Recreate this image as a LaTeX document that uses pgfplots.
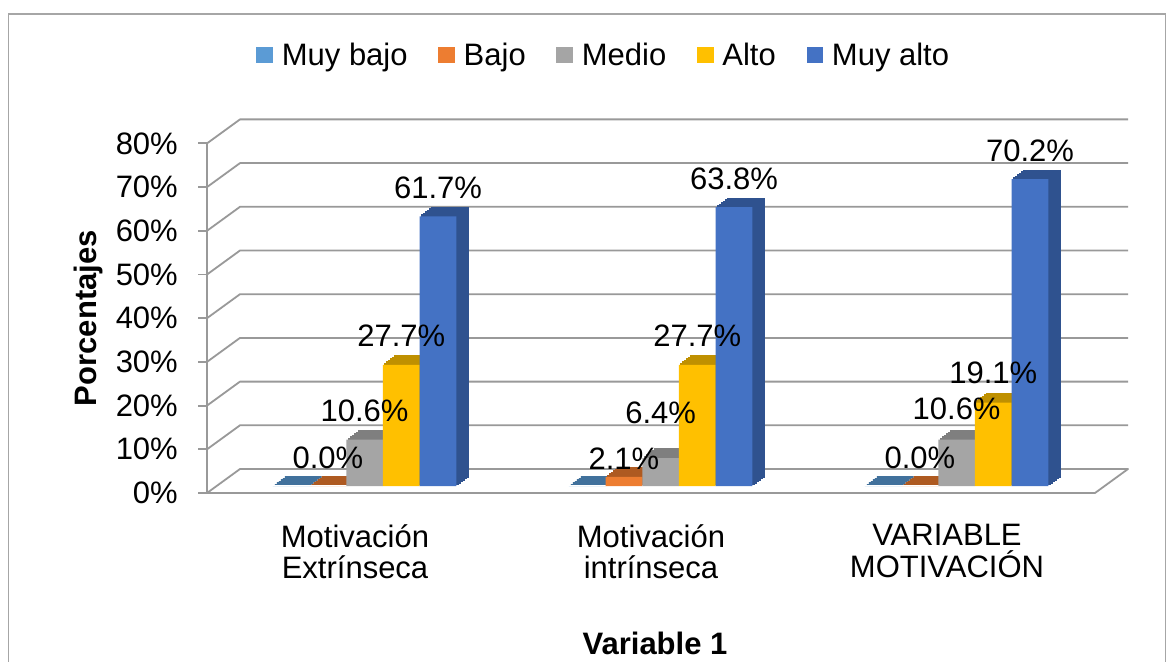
\documentclass[border=0pt]{standalone}
\usepackage{fontspec}
\setmainfont{Liberation Sans}
\usepackage{pgfplots}
\usepackage{pgfplotstable}
\pgfplotsset{compat=1.18}
\definecolor{cMB}{HTML}{5B9BD5}\definecolor{dMB}{HTML}{41719C}
\definecolor{cB}{HTML}{ED7D31}\definecolor{dB}{HTML}{AE5A21}
\definecolor{cM}{HTML}{A5A5A5}\definecolor{dM}{HTML}{7F7F7F}
\definecolor{cA}{HTML}{FFC000}\definecolor{dA}{HTML}{BF9000}
\definecolor{cMA}{HTML}{4472C4}\definecolor{dMA}{HTML}{2F528F}
\definecolor{gridc}{HTML}{999999}
\definecolor{framec}{HTML}{A6A6A6}
\newcommand{\fs}{\fontsize{31}{31.7}\selectfont}
% values, and label offsets (pt above the bar top)
\pgfplotstableread{
x muybajo bajo medio alto muyalto offbajo offmedio offalto offmuyalto
0 0.0 0.0 10.6 27.7 61.7 18 18 18 18
1 0.0 2.1 6.4 27.7 63.8 7 35 18 18
2 0.0 0.0 10.6 19.1 70.2 18 20 19 18
}\datatable
\newcommand{\threedbar}[4]{%
  \pgfplotsinvokeforeach{6,5,4,3,2,1}{%
    \addplot[forget plot, fill=#4, draw=#4, line width=1.2pt, bar shift=#2,
      xshift=9.6pt+2pt*##1, yshift=7pt+1.5pt*##1] table[x=x,y=#1]{\datatable};
  }
  \addplot[forget plot, fill=#3, draw=none, bar shift=#2, xshift=9.6pt, yshift=7pt]
    table[x=x,y=#1]{\datatable};
}
\newcommand{\barlabels}[2]{%
  \addplot[forget plot, draw=none, fill=none, bar shift=#2, xshift=9.6pt, yshift=7pt,
    visualization depends on={\thisrow{off#1}\as\laboff},
    nodes near coords={\pgfmathprintnumber[fixed,fixed zerofill,precision=1]{\pgfplotspointmeta}\%},
    every node near coord/.style={anchor=base, xshift=#2, yshift=\laboff*1pt, inner sep=0pt, font=\fs, text=black}]
    table[x=x,y=#1]{\datatable};
}
\begin{document}
\begin{tikzpicture}
\useasboundingbox (0,0) rectangle (1174pt,661pt);
\fill[white] (0,0) rectangle (1174pt,661pt);
\draw[framec, line width=1.5pt] (8.5pt,-20pt) rectangle (1165.5pt,647pt);
\begin{axis}[
  at={(207pt,168pt)}, anchor=south west,
  scale only axis, width=888pt, height=349.6pt,
  xmin=-0.5, xmax=2.5, ymin=0, ymax=80,
  ybar, bar width=36.7pt,
  clip=false,
  /pgf/number format/assume math mode=true,
  separate axis lines,
  axis x line*=bottom, axis y line*=left,
  x axis line style={draw=none},
  y axis line style={draw=gridc, line width=1.8pt},
  xtick={0,1,2},
  xticklabels={{Motivación\\Extrínseca},{Motivación\\intrínseca},{VARIABLE\\MOTIVACIÓN}},
  xtick style={draw=none},
  ytick={0,10,...,80},
  yticklabels={0\%,10\%,20\%,30\%,40\%,50\%,60\%,70\%,80\%},
  ytick style={draw=gridc, line width=1.8pt},
  tick align=outside, major tick length=9pt,
  tick label style={font=\fs},
  yticklabel style={anchor=east, inner sep=0pt, xshift=-20pt},
  xticklabel style={align=center, anchor=north, inner sep=0pt, yshift=-22pt},
  xlabel={\textbf{Variable 1}},
  every axis x label/.style={at={(axis description cs:0.5045,-0.463)}, anchor=base, font=\fs},
  ylabel={\textbf{Porcentajes}},
  every axis y label/.style={at={(axis description cs:-0.1329,0.5)}, anchor=center, rotate=90, font=\fs},
  legend columns=-1,
  legend image code/.code={\fill[#1] (0pt,-8.3pt) rectangle (16.7pt,8.3pt);},
  legend style={at={(axis description cs:0.4457,1.2529)}, anchor=center, draw=none, fill=none,
    font=\fs, inner sep=0pt, nodes={inner sep=0pt},
    /tikz/every odd column/.style={column sep=8.7pt},
    /tikz/every even column/.style={column sep=30.7pt}},
]
% grid: floor, left wall and back wall
\draw[gridc, line width=1.8pt, line join=round] (axis cs:-0.5,0) -- ++(33pt,24pt) -- ([shift={(33pt,24pt)}]axis cs:2.5,0) -- (axis cs:2.5,0) -- cycle;
\pgfplotsinvokeforeach{10,20,...,80}{%
  \draw[gridc, line width=1.8pt, line join=round] (axis cs:-0.5,#1) -- ++(33pt,24pt) -- ([shift={(33pt,24pt)}]axis cs:2.5,#1);
}
\addlegendimage{fill=cMB, draw=none}\addlegendentry{Muy bajo}
\addlegendimage{fill=cB, draw=none}\addlegendentry{Bajo}
\addlegendimage{fill=cM, draw=none}\addlegendentry{Medio}
\addlegendimage{fill=cA, draw=none}\addlegendentry{Alto}
\addlegendimage{fill=cMA, draw=none}\addlegendentry{Muy alto}
\threedbar{muybajo}{-73.4pt}{cMB}{dMB}
\threedbar{bajo}{-36.7pt}{cB}{dB}
\threedbar{medio}{0pt}{cM}{dM}
\threedbar{alto}{36.7pt}{cA}{dA}
\threedbar{muyalto}{73.4pt}{cMA}{dMA}
\barlabels{bajo}{-36.7pt}
\barlabels{medio}{0pt}
\barlabels{alto}{36.7pt}
\barlabels{muyalto}{73.4pt}
\end{axis}
\end{tikzpicture}
\end{document}
